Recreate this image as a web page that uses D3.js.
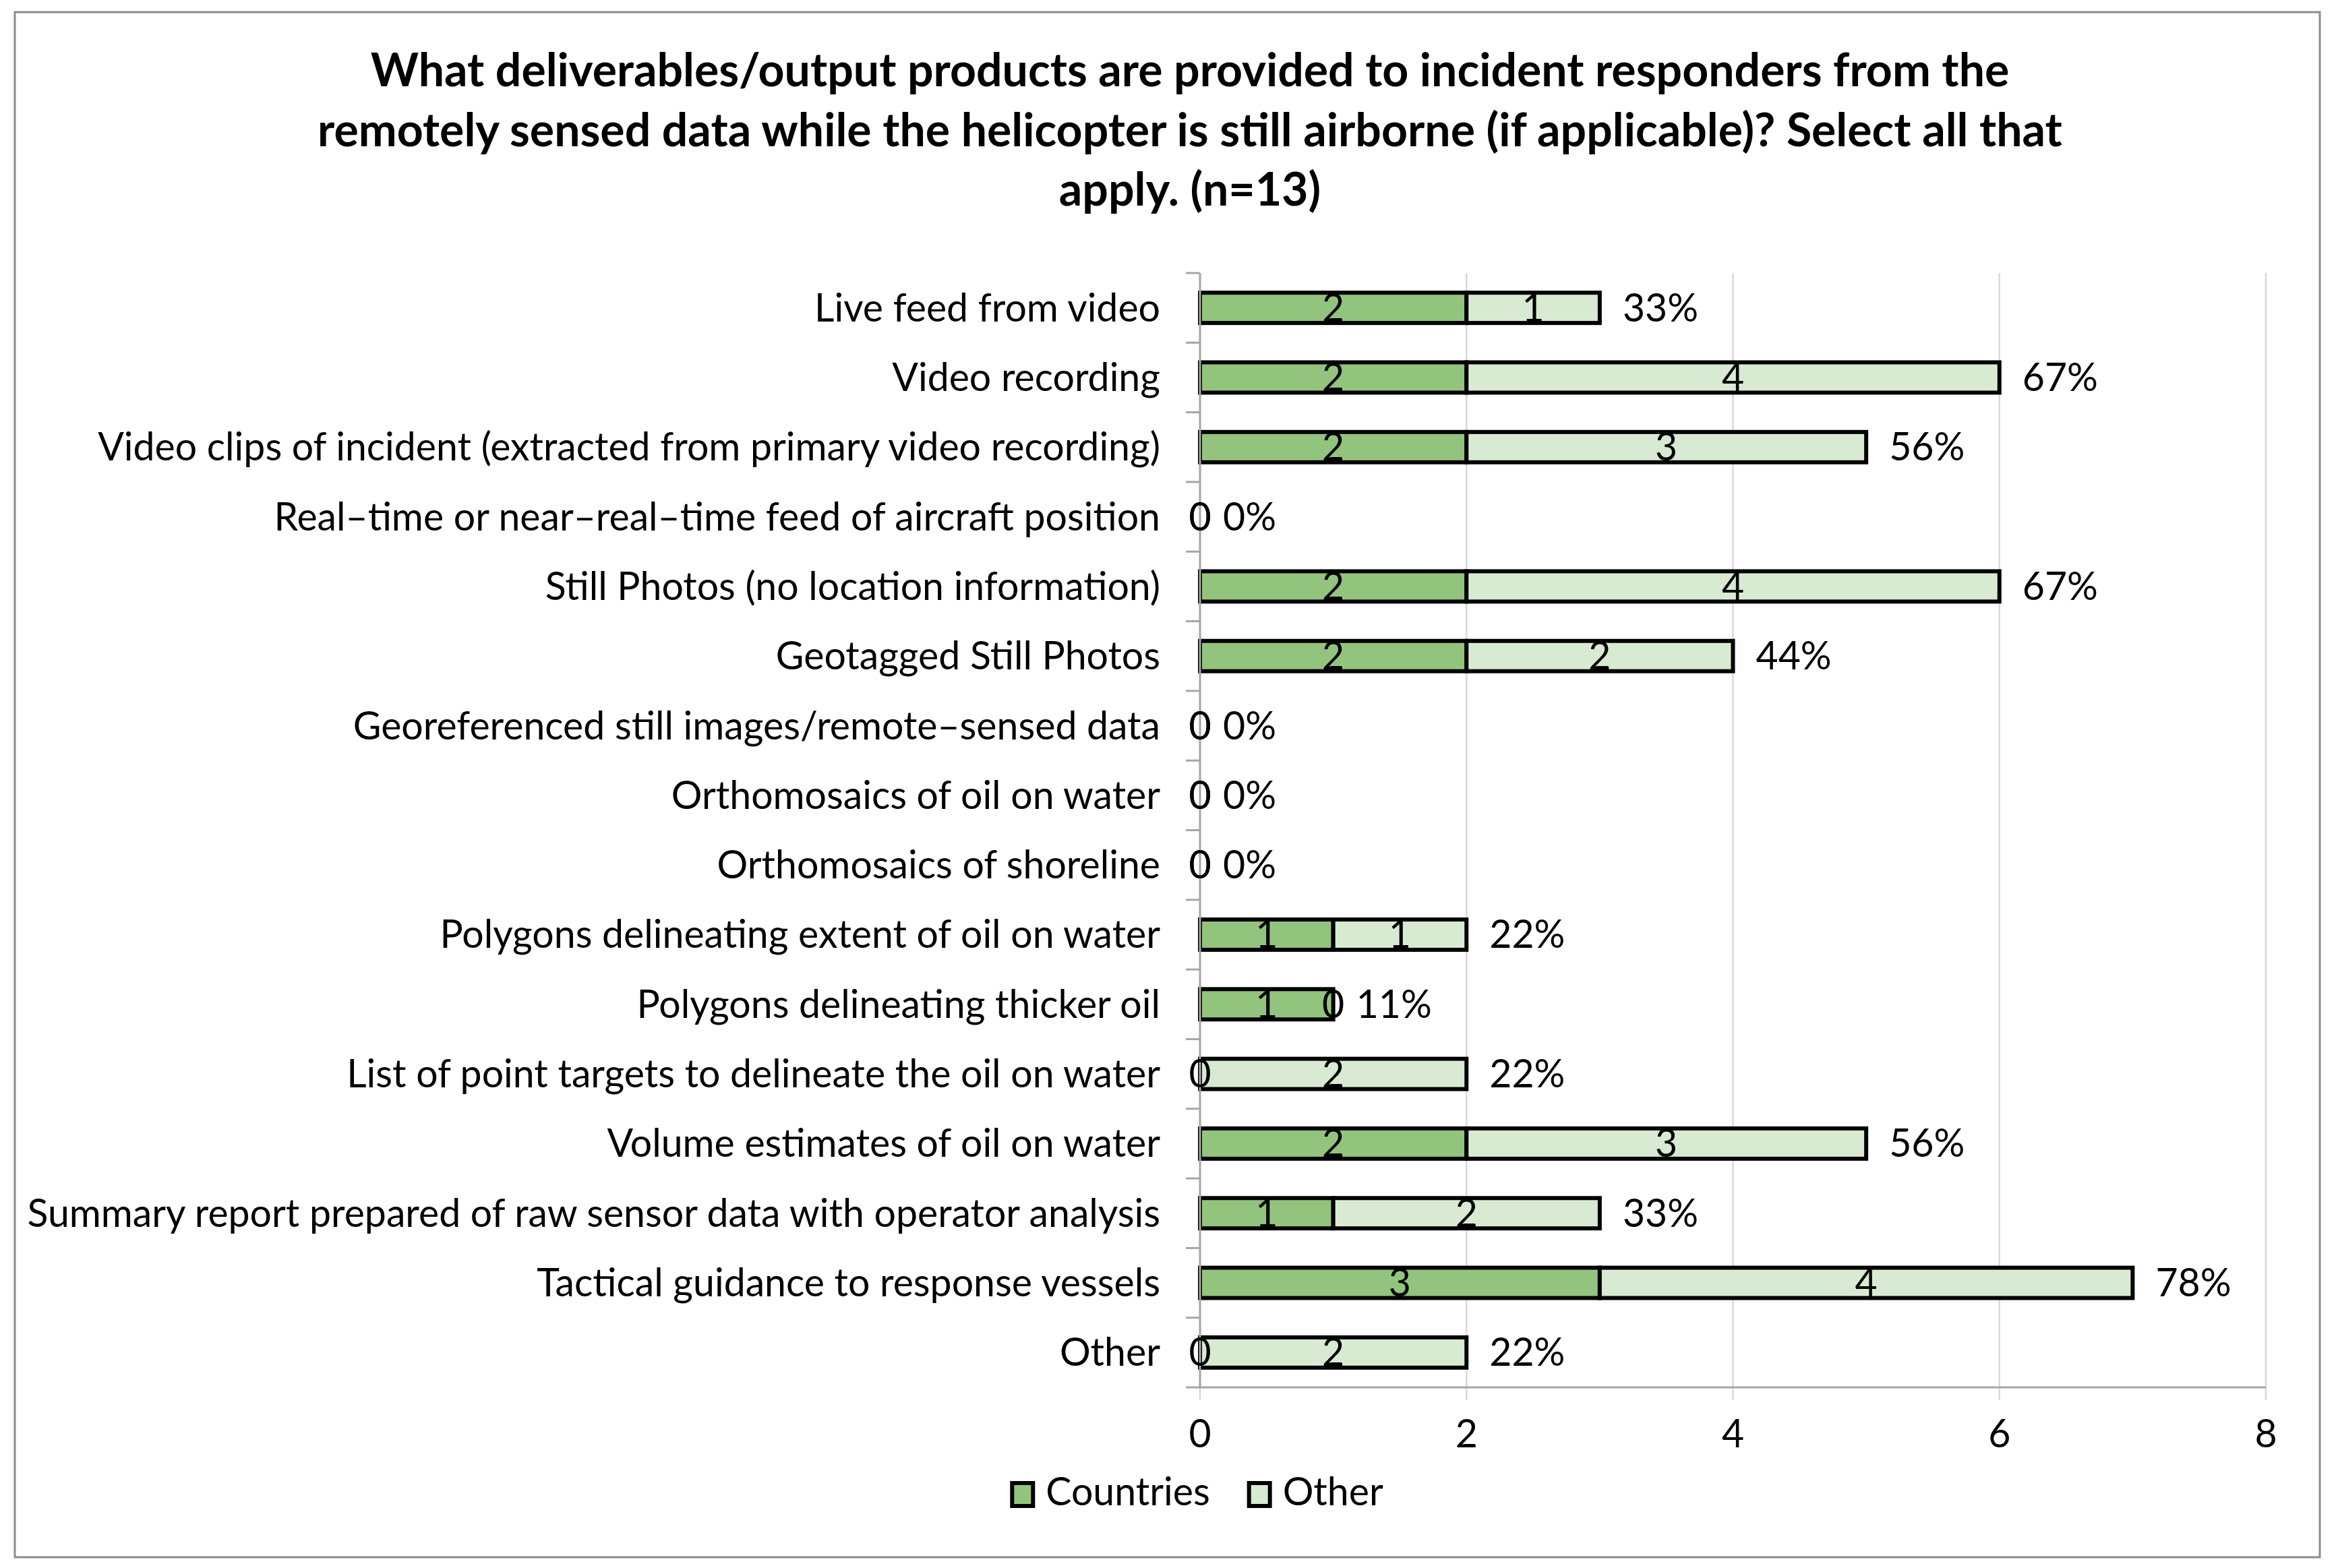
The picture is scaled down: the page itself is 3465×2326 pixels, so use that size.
<!DOCTYPE html>
<html lang="en">
<head>
    <meta charset="UTF-8">
    <title>Deliverables while airborne</title>
    <script src="https://cdn.jsdelivr.net/npm/d3@7/dist/d3.min.js"></script>
    <style>
        body { margin: 0; background: #fff; }
        text { font-family: Lato, "Open Sans", "Liberation Sans", sans-serif; fill: #000; }
    </style>
</head>
<body>
<div id="chart"></div>
<script>
    // data
    var titleLines = [
        "What deliverables/output products are provided to incident responders from the",
        "remotely sensed data while the helicopter is still airborne (if applicable)? Select all that",
        "apply. (n=13)"
    ];
    var categories = [
        "Live feed from video",
        "Video recording",
        "Video clips of incident (extracted from primary video recording)",
        "Real\u2013time or near\u2013real\u2013time feed of aircraft position",
        "Still Photos (no location information)",
        "Geotagged Still Photos",
        "Georeferenced still images/remote\u2013sensed data",
        "Orthomosaics of oil on water",
        "Orthomosaics of shoreline",
        "Polygons delineating extent of oil on water",
        "Polygons delineating thicker oil",
        "List of point targets to delineate the oil on water",
        "Volume estimates of oil on water",
        "Summary report prepared of raw sensor data with operator analysis",
        "Tactical guidance to response vessels",
        "Other"
    ];
    var countries = [2, 2, 2, 0, 2, 2, 0, 0, 0, 1, 1, 0, 2, 1, 3, 0];
    var other     = [1, 4, 3, 0, 4, 2, 0, 0, 0, 1, 0, 2, 3, 2, 4, 2];
    var pctLabels = ["33%", "67%", "56%", "0%", "67%", "44%", "0%", "0%", "0%",
                     "22%", "11%", "22%", "56%", "33%", "78%", "22%"];
    var seriesNames = ["Countries", "Other"];
    var xTicks = [0, 2, 4, 6, 8];

    var colors = {Countries: "#93c47d", Other: "#d9ead3"};

    var W = 3465, H = 2326;
    var plotLeft = 1780, plotRight = 3361, plotTop = 405, plotBottom = 2058;

    var svg = d3.select("#chart").append("svg")
            .attr("width", W)
            .attr("height", H);

    svg.append("rect")
            .attr("x", 0).attr("y", 0)
            .attr("width", W).attr("height", H)
            .style("fill", "#fff");

    // outer chart border
    svg.append("rect")
            .attr("x", 22).attr("y", 18)
            .attr("width", 3419).attr("height", 2292)
            .style("fill", "none")
            .attr("stroke", "#8c8c8c")
            .attr("stroke-width", 3);

    var rows = categories.map(function (c, i) {
        return {cat: c, Countries: countries[i], Other: other[i], pct: pctLabels[i]};
    });

    var x = d3.scaleLinear().domain([0, 8]).range([plotLeft, plotRight]);
    var y = d3.scaleBand().domain(categories).range([plotTop, plotBottom])
            .paddingInner(0.565).paddingOuter(0.2825);

    // fit a font size so text widths match the reference
    function fitSize(strings, target, weight) {
        var probe = svg.append("g");
        var maxW = 0;
        strings.forEach(function (s) {
            var t = probe.append("text").style("font-size", "100px")
                    .style("font-weight", weight).text(s);
            maxW = Math.max(maxW, t.node().getComputedTextLength());
        });
        probe.remove();
        return 100 * target / maxW;
    }
    var fs = fitSize(["Summary report prepared of raw sensor data with operator analysis"], 1681, "normal");
    var tfs = fitSize([titleLines[0]], 2431, "bold");

    // gridlines (they also run below the axis as tick marks)
    svg.append("g").selectAll("line")
            .data(xTicks)
            .enter().append("line")
            .attr("x1", function (d) { return x(d); })
            .attr("x2", function (d) { return x(d); })
            .attr("y1", plotTop)
            .attr("y2", plotBottom + 19)
            .attr("stroke", "#d9d9d9")
            .attr("stroke-width", 2.5);

    var stack = d3.stack().keys(seriesNames)(rows);

    var seg = svg.append("g").selectAll("g")
            .data(stack)
            .enter().append("g")
            .style("fill", function (d) { return colors[d.key]; });

    seg.selectAll("rect")
            .data(function (d) { return d.filter(function (p) { return p[1] - p[0] > 0; }); })
            .enter().append("rect")
            .attr("x", function (d) { return x(d[0]); })
            .attr("width", function (d) { return x(d[1]) - x(d[0]); })
            .attr("y", function (d) { return y(d.data.cat); })
            .attr("height", y.bandwidth())
            .attr("stroke", "#000")
            .attr("stroke-width", 6);

    // axes
    svg.append("line")
            .attr("x1", plotLeft - 21).attr("x2", plotRight)
            .attr("y1", plotBottom).attr("y2", plotBottom)
            .attr("stroke", "#a6a6a6").attr("stroke-width", 3);
    svg.append("line")
            .attr("x1", plotLeft).attr("x2", plotLeft)
            .attr("y1", plotTop).attr("y2", plotBottom)
            .attr("stroke", "#a6a6a6").attr("stroke-width", 3);
    var bounds = categories.map(function (c) { return y(c) - y.step() * y.paddingInner() / 2; });
    svg.append("g").selectAll("line")
            .data(bounds)
            .enter().append("line")
            .attr("x1", plotLeft - 21).attr("x2", plotLeft)
            .attr("y1", function (d) { return d; })
            .attr("y2", function (d) { return d; })
            .attr("stroke", "#a6a6a6").attr("stroke-width", 3);

    // x tick labels
    svg.append("g").selectAll("text")
            .data(xTicks)
            .enter().append("text")
            .attr("x", function (d) { return x(d); })
            .attr("y", 2147)
            .attr("text-anchor", "middle")
            .style("font-size", fs + "px")
            .text(function (d) { return d; });

    // category labels
    svg.append("g").selectAll("text")
            .data(categories)
            .enter().append("text")
            .attr("x", 1721)
            .attr("y", function (d) { return y(d) + y.bandwidth() / 2 + 0.35 * fs; })
            .attr("text-anchor", "end")
            .style("font-size", fs + "px")
            .text(function (d) { return d; });

    // value labels in the middle of each segment, drawn above all bars
    svg.append("g").selectAll("g")
            .data(stack)
            .enter().append("g")
            .selectAll("text")
            .data(function (d) { return d; })
            .enter().append("text")
            .attr("x", function (d) { return x((d[0] + d[1]) / 2); })
            .attr("y", function (d) { return y(d.data.cat) + y.bandwidth() / 2 + 0.35 * fs; })
            .attr("text-anchor", "middle")
            .style("font-size", fs + "px")
            .text(function (d) { return d[1] - d[0]; });

    // share labels after each bar
    svg.append("g").selectAll("text")
            .data(rows)
            .enter().append("text")
            .attr("x", function (d) { return x(d.Countries + d.Other) + 34; })
            .attr("y", function (d) { return y(d.cat) + y.bandwidth() / 2 + 0.35 * fs; })
            .style("font-size", fs + "px")
            .text(function (d) { return d.pct; });

    // title
    svg.append("g").selectAll("text")
            .data(titleLines)
            .enter().append("text")
            .attr("x", 1765)
            .attr("y", function (d, i) { return [128, 217, 305][i]; })
            .attr("text-anchor", "middle")
            .style("font-size", tfs + "px")
            .style("font-weight", "bold")
            .text(function (d) { return d; });

    // legend
    var legend = svg.append("g");
    var lx = 0;
    seriesNames.forEach(function (name) {
        var item = legend.append("g").attr("transform", "translate(" + lx + ",0)");
        item.append("rect")
                .attr("x", 3).attr("y", 2200)
                .attr("width", 31).attr("height", 34)
                .style("fill", colors[name])
                .attr("stroke", "#000")
                .attr("stroke-width", 6);
        var t = item.append("text")
                .attr("x", 53).attr("y", 2233)
                .style("font-size", fs + "px")
                .text(name);
        lx += 53 + t.node().getComputedTextLength() + 55;
    });
    var lw = lx - 55;
    legend.attr("transform", "translate(" + (1775 - lw / 2) + ",0)");
</script>
</body>
</html>
